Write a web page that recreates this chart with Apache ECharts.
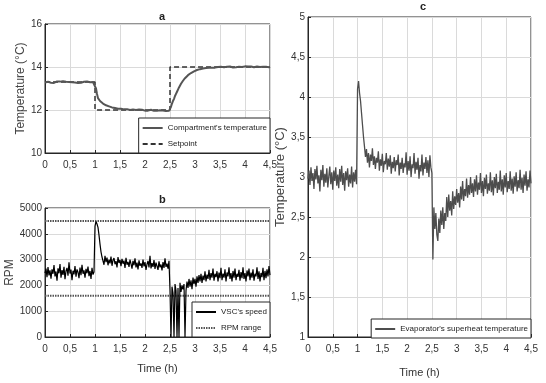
<!DOCTYPE html>
<html>
<head>
<meta charset="utf-8">
<script src="https://cdn.jsdelivr.net/npm/echarts@6/dist/echarts.min.js"></script>
<style>
  html, body { margin: 0; padding: 0; background: #fff; }
  #chart { width: 546px; height: 383px; }
</style>
</head>
<body>
<div id="chart"></div>
<script>
// samples every 0.02 h, from 0 to 4.5 h
const sampleStep = 0.02

// panel a: compartment temperature (°C)
const compartmentTemp = [
  13.28, 13.32, 13.26, 13.31, 13.29, 13.34, 13.27, 13.30, 13.33, 13.26,
  13.31, 13.28, 13.33, 13.29, 13.25, 13.32, 13.30, 13.27, 13.34, 13.29,
  13.26, 13.31, 13.28, 13.33, 13.30, 13.27, 13.32, 13.29, 13.25, 13.31,
  13.28, 13.34, 13.30, 13.26, 13.32, 13.29, 13.27, 13.33, 13.28, 13.31,
  13.26, 13.30, 13.33, 13.27, 13.31, 13.29, 13.34, 13.28, 13.30, 13.27,
  13.25, 13.00, 12.75, 12.55, 12.47, 12.42, 12.38, 12.33,
  12.30, 12.27, 12.25, 12.22, 12.21, 12.18, 12.17, 12.15, 12.14, 12.12,
  12.12, 12.10, 12.09, 12.08, 12.08, 12.06, 12.07, 12.05, 12.06, 12.04,
  12.05, 12.03, 12.04, 12.02, 12.04, 12.01, 12.03, 12.00, 12.03, 12.01,
  12.02, 11.99, 12.02, 12.00, 12.01, 11.98, 12.02, 12.00, 11.99, 12.01,
  11.98, 12.00, 11.97, 12.01, 11.99, 11.97, 12.00, 11.98, 12.01, 11.97,
  11.99, 11.96, 12.00, 11.98, 11.97, 12.00, 11.96, 11.99, 11.97, 11.95,
  11.98, 11.96, 11.99, 11.95, 11.97, 11.94, 11.96,
  11.95, 12.15, 12.30, 12.42, 12.52, 12.65, 12.75, 12.85, 12.95, 13.05,
  13.14, 13.22, 13.30, 13.36, 13.42, 13.48, 13.53, 13.57, 13.62, 13.65,
  13.69, 13.72, 13.75, 13.78, 13.80, 13.83, 13.85, 13.86, 13.88, 13.89,
  13.90, 13.92, 13.91, 13.93, 13.94, 13.93, 13.95, 13.96, 13.95, 13.97,
  13.96, 13.95, 13.97, 13.96, 13.98, 13.97, 13.99, 13.97, 14.00, 13.98,
  13.99, 14.01, 13.98, 14.00, 13.99, 14.02, 13.98, 14.01, 14.00, 13.99,
  14.02, 13.99, 14.01, 13.98, 14.02, 14.00, 13.99, 14.03, 14.00, 14.01,
  13.98, 14.02, 14.00, 14.01, 13.99, 14.03, 14.00, 13.98, 14.02, 14.01,
  13.99, 14.02, 14.00, 14.03, 13.99, 14.01, 14.00, 14.02, 13.98, 14.01,
  14.00, 14.03, 13.99, 14.01, 14.02, 13.99, 14.01, 14.00, 14.02, 13.99,
  14.01
]
// setpoint steps: [time (h), °C]
const setpointSteps = [[0, 13.3], [1, 13.3], [1, 12], [2.5, 12], [2.5, 14], [4.5, 14]]

// panel b: VSC speed (RPM)
const vscSpeed = [
  2480, 2650, 2320, 2710, 2390, 2580, 2260, 2620, 2450, 2790,
  2350, 2540, 2180, 2660, 2470, 2830, 2300, 2590, 2410, 2720,
  2240, 2560, 2680, 2380, 2900, 2460, 2610, 2200, 2570, 2430,
  2750, 2340, 2620, 2510, 2280, 2690, 2400, 2800, 2450, 2580,
  2300, 2640, 2470, 2730, 2360, 2560, 2250, 2680, 2420, 2520,
  4300, 4480, 4380, 4250, 3950, 3600, 3300, 3100,
  3050, 2800, 3150, 2900, 3080, 2780, 3000, 2850, 3120, 2760,
  2980, 3060, 2820, 2940, 2700, 3100, 2870, 2990, 2750, 3030,
  2840, 2960, 2680, 3070, 2800, 2910, 2720, 3000, 2830, 2650,
  2950, 2780, 3050, 2700, 2880, 2620, 2970, 2760, 2850, 2680,
  3000, 2740, 2900, 2600, 2820, 2950, 2700, 3150, 2660, 2860,
  2720, 2980, 2640, 2880, 2750, 2600, 2930, 2700, 2810, 2580,
  2900, 2680, 3050, 2720, 2840, 2650, 2950,
  1800, 0, 1950, 1700, 0, 2050, 1800, 0, 1900, 0,
  2100, 1750, 2000, 1850, 2050, 0, 1800, 2150, 1900, 2250,
  1950, 2200, 1850, 2300, 2050, 2250, 1950, 2350, 2100, 2400,
  2150, 2450, 2100, 2380, 2200, 2550, 2150, 2420, 2250, 2600,
  2200, 2480, 2300, 2650, 2180, 2450, 2320, 2550, 2150, 2500,
  2280, 2680, 2200, 2460, 2300, 2620, 2150, 2500, 2350, 2700,
  2250, 2480, 2150, 2560, 2300, 2650, 2200, 2450, 2330, 2600,
  2180, 2520, 2280, 2700, 2250, 2480, 2150, 2580, 2350, 2650,
  2200, 2500, 2300, 2620, 2180, 2450, 2350, 2700, 2250, 2550,
  2150, 2480, 2320, 2680, 2200, 2560, 2280, 2620, 2350, 2750,
  2400
]
// RPM range limits
const rpmRange = [1600, 4500]

// panel c: evaporator superheat temperature (°C)
const superheatTemp = [
  2.98, 3.08, 2.90, 3.12, 2.95, 3.05, 2.85, 3.10, 2.97, 3.14,
  2.92, 3.02, 2.82, 3.09, 2.96, 3.15, 2.88, 3.04, 2.93, 3.11,
  2.87, 3.01, 3.13, 2.91, 3.06, 2.84, 3.08, 2.95, 3.12, 2.89,
  3.03, 2.86, 3.10, 2.94, 3.14, 2.90, 3.05, 2.83, 3.07, 2.96,
  3.11, 2.88, 3.03, 2.92, 3.13, 2.87, 3.06, 2.94, 3.09, 2.91,
  4.10, 4.20, 4.05, 3.95, 3.80, 3.65, 3.50, 3.38,
  3.25, 3.35, 3.18, 3.30, 3.12, 3.28, 3.20, 3.36, 3.15, 3.26,
  3.10, 3.24, 3.18, 3.32, 3.08, 3.22, 3.14, 3.29, 3.06, 3.20,
  3.16, 3.30, 3.09, 3.23, 3.13, 3.27, 3.04, 3.19, 3.11, 3.25,
  3.07, 3.21, 3.15, 3.28, 3.02, 3.18, 3.10, 3.24, 3.05, 3.17,
  3.12, 3.31, 3.03, 3.20, 3.08, 3.26, 3.00, 3.16, 3.11, 3.30,
  3.04, 3.19, 3.09, 3.24, 2.98, 3.15, 3.07, 3.28, 3.02, 3.18,
  3.10, 3.25, 3.05, 3.21, 3.00, 3.27, 3.12,
  3.05, 1.97, 2.62, 2.35, 2.55, 2.28, 2.20, 2.48, 2.30, 2.58,
  2.40, 2.62, 2.35, 2.55, 2.45, 2.75, 2.50, 2.78, 2.58, 2.70,
  2.52, 2.82, 2.60, 2.76, 2.65, 2.85, 2.68, 2.80, 2.62, 2.88,
  2.72, 2.95, 2.70, 2.85, 2.76, 2.98, 2.74, 2.90, 2.78, 3.00,
  2.80, 2.92, 2.75, 2.97, 2.82, 3.02, 2.78, 2.93, 2.84, 3.05,
  2.80, 2.95, 2.76, 2.99, 2.85, 3.03, 2.79, 2.92, 2.83, 3.06,
  2.81, 2.96, 2.77, 3.00, 2.86, 3.04, 2.80, 2.94, 2.84, 3.08,
  2.82, 2.97, 2.78, 3.02, 2.87, 3.05, 2.81, 2.95, 2.85, 3.07,
  2.83, 2.98, 2.79, 3.01, 2.88, 3.06, 2.82, 2.96, 2.86, 3.09,
  2.84, 2.99, 2.80, 3.03, 2.89, 3.07, 2.83, 2.97, 2.87, 3.08,
  2.92
]

const tickFont = "'Liberation Sans Narrow', 'Liberation Sans', Arial, sans-serif"
const nameFont = "'Liberation Sans', Arial, sans-serif"
const commaFmt = (v) => String(v).replace('.', ',')

function withTime(values) {
  return values.map((v, i) => [+(i * sampleStep).toFixed(2), v])
}

function xAxisFor(gridIndex, name, nameGap) {
  return {
    type: 'value',
    gridIndex,
    min: 0,
    max: 4.5,
    interval: 0.5,
    name: name || '',
    nameLocation: 'middle',
    nameGap: nameGap || 26,
    nameTextStyle: { fontFamily: tickFont, fontSize: 11, color: '#333' },
    axisLine: { onZero: false, lineStyle: { color: '#262626' } },
    axisTick: { inside: true, length: 3, lineStyle: { color: '#262626' } },
    axisLabel: { formatter: commaFmt, fontFamily: tickFont, fontSize: 10, color: '#333', margin: 7 },
    splitLine: { show: true, lineStyle: { color: '#dadada' } },
  }
}

function yAxisFor(gridIndex, opts) {
  return {
    type: 'value',
    gridIndex,
    min: opts.min,
    max: opts.max,
    interval: opts.interval,
    name: opts.name,
    nameLocation: 'middle',
    nameGap: opts.nameGap,
    nameTextStyle: { fontFamily: nameFont, fontSize: opts.nameSize, color: '#444' },
    axisLine: { show: true, lineStyle: { color: '#262626' } },
    axisTick: { show: true, inside: true, length: 3, lineStyle: { color: '#262626' } },
    axisLabel: { formatter: commaFmt, fontFamily: tickFont, fontSize: 10, color: '#333', margin: 3 },
    splitLine: { show: true, lineStyle: { color: '#dadada' } },
  }
}

const gridBox = { show: true, borderColor: '#262626', borderWidth: 1, backgroundColor: '#fff' }
const legendBase = {
  orient: 'vertical',
  itemWidth: 20,
  itemHeight: 8,
  itemGap: 8,
  padding: [6, 3, 5, 3],
  borderColor: '#262626',
  borderWidth: 1,
  borderRadius: 0,
  backgroundColor: '#fff',
  itemStyle: { opacity: 0 },
  textStyle: { fontFamily: tickFont, fontSize: 8, color: '#222' },
}
const titleStyle = { fontSize: 11, fontWeight: 'bold', color: '#222', fontFamily: nameFont }

const option = {
  animation: false,
  backgroundColor: '#fff',
  title: [
    { text: 'a', left: 154, top: 6, textStyle: titleStyle },
    { text: 'b', left: 154, top: 189, textStyle: titleStyle },
    { text: 'c', left: 415, top: -4, textStyle: titleStyle },
  ],
  grid: [
    { left: 45, top: 24, width: 225, height: 129, ...gridBox },
    { left: 45, top: 208, width: 225, height: 129, ...gridBox },
    { left: 308, top: 17, width: 223, height: 320, ...gridBox },
  ],
  legend: [
    { ...legendBase, right: 276, bottom: 230, data: ["Compartment's temperature", 'Setpoint'] },
    { ...legendBase, right: 276, bottom: 46, data: ["VSC's speed", 'RPM range'] },
    { ...legendBase, right: 15, bottom: 45, data: ["Evaporator's superheat temperature"] },
  ],
  xAxis: [xAxisFor(0), xAxisFor(1, 'Time (h)', 26), xAxisFor(2, 'Time (h)', 30)],
  yAxis: [
    yAxisFor(0, { min: 10, max: 16, interval: 2, name: 'Temperature (°C)', nameGap: 9, nameSize: 12 }),
    yAxisFor(1, { min: 0, max: 5000, interval: 1000, name: 'RPM', nameGap: 20, nameSize: 12 }),
    yAxisFor(2, { min: 1, max: 5, interval: 0.5, name: 'Temperature (°C)', nameGap: 12, nameSize: 13 }),
  ],
  series: [
    {
      name: 'Setpoint',
      type: 'line',
      xAxisIndex: 0,
      yAxisIndex: 0,
      data: setpointSteps,
      symbol: 'none',
      lineStyle: { color: '#333', width: 1.5, type: [5, 3] },
      itemStyle: { color: '#333' },
      z: 2,
    },
    {
      name: "Compartment's temperature",
      type: 'line',
      xAxisIndex: 0,
      yAxisIndex: 0,
      data: withTime(compartmentTemp),
      symbol: 'none',
      lineStyle: { color: '#555', width: 2 },
      itemStyle: { color: '#555' },
      z: 3,
    },
    ...rpmRange.map((r) => ({
      name: 'RPM range',
      type: 'line',
      xAxisIndex: 1,
      yAxisIndex: 1,
      data: [[0, r], [4.5, r]],
      symbol: 'none',
      lineStyle: { color: '#555', width: 2, type: [1.5, 1] },
      itemStyle: { color: '#555' },
      z: 2,
    })),
    {
      name: "VSC's speed",
      type: 'line',
      xAxisIndex: 1,
      yAxisIndex: 1,
      data: withTime(vscSpeed),
      symbol: 'none',
      lineStyle: { color: '#000', width: 1.2 },
      itemStyle: { color: '#000' },
      z: 3,
    },
    {
      name: "Evaporator's superheat temperature",
      type: 'line',
      xAxisIndex: 2,
      yAxisIndex: 2,
      data: withTime(superheatTemp),
      symbol: 'none',
      lineStyle: { color: '#4d4d4d', width: 1.3 },
      itemStyle: { color: '#4d4d4d' },
      z: 3,
    },
  ],
}

const chart = echarts.init(document.getElementById('chart'))
chart.setOption(option)
window.addEventListener('resize', () => chart.resize())
</script>
</body>
</html>
